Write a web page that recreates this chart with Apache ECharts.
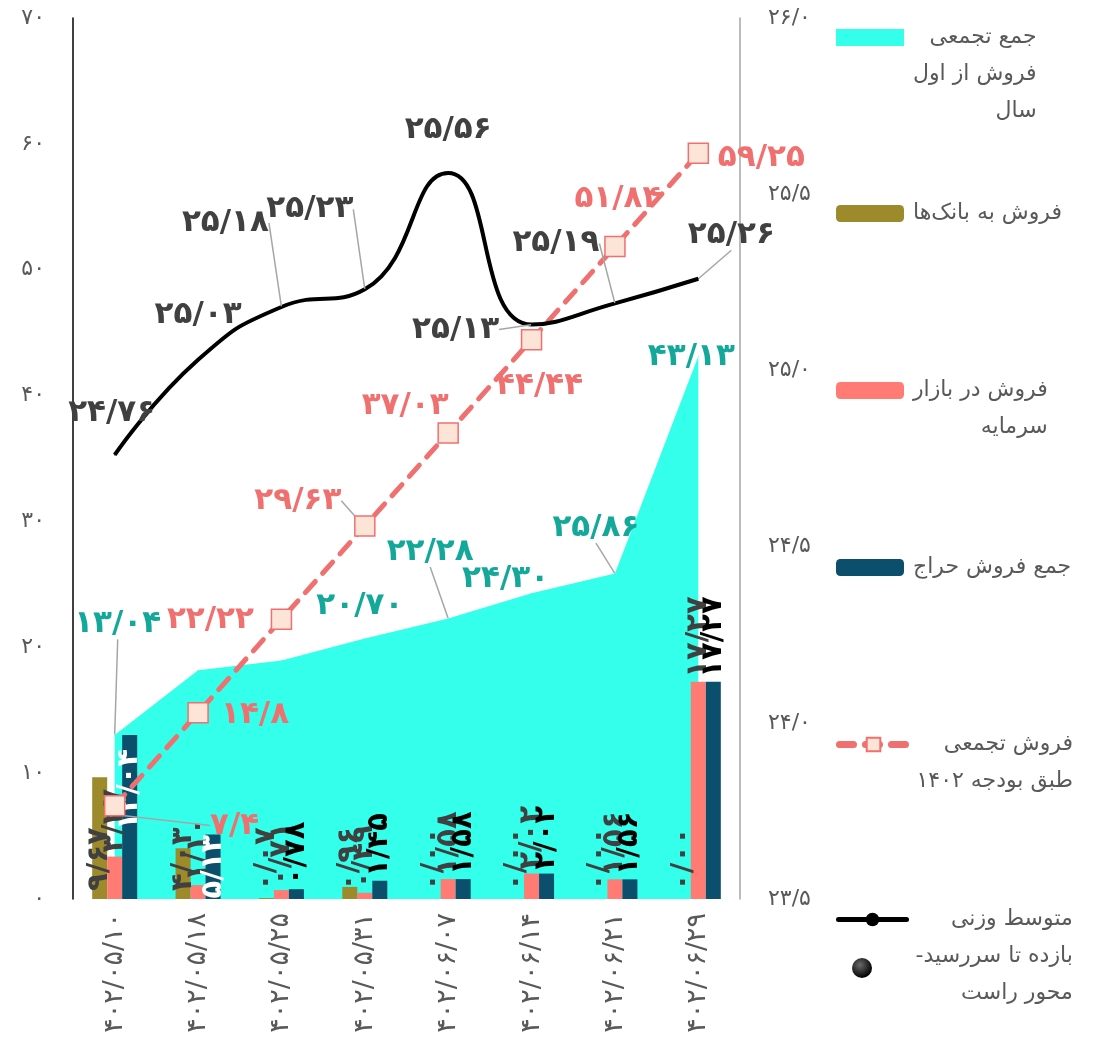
<!DOCTYPE html>
<html>
<head>
<meta charset="utf-8">
<script src="https://cdn.jsdelivr.net/npm/echarts@6/dist/echarts.min.js"></script>
<style>
  html, body { margin: 0; padding: 0; background: #fff; }
  #chart { width: 1099px; height: 1038px; }
</style>
</head>
<body>
<div id="chart" dir="rtl"></div>
<script>
// Weekly treasury-bond sales, 1402 (values in thousand billion rials, yield in percent)
const dates = ['۱۴۰۲/۰۵/۱۰', '۱۴۰۲/۰۵/۱۸', '۱۴۰۲/۰۵/۲۵', '۱۴۰۲/۰۵/۳۱', '۱۴۰۲/۰۶/۰۷', '۱۴۰۲/۰۶/۱۴', '۱۴۰۲/۰۶/۲۱', '۱۴۰۲/۰۶/۲۹'];
const cumulativeSales = [13.04, 18.17, 18.95, 20.70, 22.28, 24.30, 25.86, 43.13];
const bankSales = [9.67, 4.03, 0.07, 0.96, 0, 0, 0, 0];
const marketSales = [3.37, 1.10, 0.71, 0.49, 1.58, 2.02, 1.56, 17.27];
const auctionTotal = [13.04, 5.13, 0.78, 1.45, 1.58, 2.02, 1.56, 17.27];
const budgetCumulative = [7.4, 14.8, 22.22, 29.63, 37.03, 44.44, 51.84, 59.25];
const avgYield = [24.76, 25.03, 25.18, 25.23, 25.56, 25.13, 25.19, 25.26];

const names = {
  cumulative: 'جمع تجمعی فروش از اول سال',
  banks: 'فروش به بانک‌ها',
  market: 'فروش در بازار سرمایه',
  auction: 'جمع فروش حراج',
  budget: 'فروش تجمعی طبق بودجه ۱۴۰۲',
  yield: 'متوسط وزنی بازده تا سررسید- محور راست'
};

// Persian digits, with "/" as the decimal mark
const FA = '۰۱۲۳۴۵۶۷۸۹';
const fa = s => String(s).replace(/[0-9]/g, d => FA[d]).replace(/\./g, '/');

// label nudges (pixels) away from the default "top" spot; null hides the label
const cumulativeShift = [[3, -90], null, null, [-5, -12], [-18, -46], [-26, 7], [-19, -25], [-7, 22]];
const cumulativeLeaders = [0, 4, 6];
const budgetShift = [[120, 51], [57, 33], [-71, 32], [-67, 6], [-43, 4], [8, 78], [3, -16], [63, 36]];
const budgetLeaders = [0, 3];
const yieldShift = [[-3, -21], [0, -24], [-56, -63], [-55, -59], [0, -22], [-76, 26], [-59, -39], [33, -23]];
const yieldLeaders = [2, 3, 5, 6, 7];

const FONT = 'DejaVu Sans';
const leaderStyle = { lineStyle: { color: '#A6A6A6', width: 1.5 } };
const bigLabel = { fontSize: 31, fontWeight: 'bold', fontFamily: FONT };

function lineData(values, shift, leaders) {
  return values.map((v, i) => ({
    value: v,
    label: { show: shift[i] !== null },
    labelLine: { show: leaders.indexOf(i) >= 0 }
  }));
}
function shiftLayout(shift) {
  return p => {
    const s = shift[p.dataIndex];
    return s ? { dx: s[0], dy: s[1] } : {};
  };
}

const barLabelBase = {
  show: true, rotate: 90, align: 'left', verticalAlign: 'middle',
  fontSize: 29, fontWeight: 'bold', fontFamily: FONT,
  formatter: p => fa(p.value.toFixed(2))
};

// white labels inside the two tall auction bars
const auctionLabelOverride = {
  0: { position: 'insideTop', align: 'right', distance: 14, color: '#fff' },
  1: { position: 'inside', align: 'center', color: '#fff' }
};

// legend: one block per series, first text line level with the key
const LINE_H = 37;
const KEY_H = 17;
function legendBlock(name, lines, centerY, extra) {
  return Object.assign({
    data: [name],
    left: 836,
    top: centerY - KEY_H / 2,
    orient: 'vertical',
    padding: 0,
    itemWidth: 68,
    itemHeight: KEY_H,
    selectedMode: false,
    formatter: () => lines.map(l => '{r|' + l + '}').join('\n'),
    textStyle: {
      padding: [(lines.length - 1) * LINE_H, 0, 0, 4],
      rich: { r: { align: 'right', fontSize: 22, lineHeight: LINE_H, color: '#595959', fontFamily: FONT } }
    }
  }, extra || {});
}

const axisFont = { color: '#595959', fontSize: 22, fontFamily: FONT };

const option = {
  animation: false,
  backgroundColor: '#fff',
  textStyle: { fontFamily: FONT },
  grid: { left: 73, right: 359, top: 18, bottom: 139, containLabel: false, outerBoundsMode: 'none' },
  legend: [
    legendBlock(names.cumulative, ['جمع تجمعی', 'فروش از اول', 'سال'], 35, { data: [{ name: names.cumulative, icon: 'rect' }] }),
    legendBlock(names.banks, ['فروش به بانک‌ها'], 211),
    legendBlock(names.market, ['فروش در بازار', 'سرمایه'], 388),
    legendBlock(names.auction, ['جمع فروش حراج'], 565),
    legendBlock(names.budget, ['فروش تجمعی', 'طبق بودجه ۱۴۰۲'], 742,
      { lineStyle: { width: 7, type: [14, 12], cap: 'round' } }),
    legendBlock(names.yield, ['متوسط وزنی', 'بازده تا سررسید-', 'محور راست'], 917,
      { lineStyle: { width: 5, cap: 'round' } }),
    {
      data: [{
        name: names.yield, icon: 'circle',
        itemStyle: { color: { type: 'radial', x: 0.4, y: 0.35, r: 0.65, colorStops: [{ offset: 0, color: '#6a6a6a' }, { offset: 1, color: '#000' }] } }
      }],
      left: 852, top: 958, padding: 0, itemWidth: 20, itemHeight: 20,
      selectedMode: false, formatter: () => ''
    }
  ],
  xAxis: {
    type: 'category',
    data: dates,
    axisLine: { show: false },
    axisTick: { show: false },
    axisLabel: Object.assign({ rotate: 90, margin: 14 }, axisFont, { fontSize: 27 })
  },
  yAxis: [
    {
      type: 'value', min: 0, max: 70, interval: 10,
      axisLine: { show: true, lineStyle: { color: '#000', width: 1.5 } },
      axisTick: { show: false },
      splitLine: { show: false },
      axisLabel: Object.assign({ margin: 28, formatter: v => fa(v) }, axisFont)
    },
    {
      type: 'value', position: 'right', min: 23.5, max: 26, interval: 0.5,
      axisLine: { show: true, lineStyle: { color: '#A6A6A6', width: 1.5 } },
      axisTick: { show: false },
      splitLine: { show: false },
      axisLabel: Object.assign({ margin: 28, formatter: v => fa(v.toFixed(1)) }, axisFont)
    }
  ],
  series: [
    {
      name: names.cumulative,
      type: 'line',
      z: 1,
      data: lineData(cumulativeSales, cumulativeShift, cumulativeLeaders),
      symbol: 'circle', symbolSize: 1,
      itemStyle: { color: '#33FFEB' },
      lineStyle: { width: 0, opacity: 0 },
      areaStyle: { color: '#33FFEB', opacity: 1 },
      label: Object.assign({ show: true, position: 'top', color: '#14A89A', formatter: p => fa(p.value.toFixed(2)) }, bigLabel),
      labelLine: leaderStyle,
      labelLayout: shiftLayout(cumulativeShift)
    },
    {
      name: names.banks,
      type: 'bar',
      z: 2,
      barWidth: 15, barGap: '0%',
      data: bankSales,
      itemStyle: { color: '#9C8A2B' },
      label: Object.assign({}, barLabelBase, { position: 'insideBottom', distance: 8, color: '#404040' })
    },
    {
      name: names.market,
      type: 'bar',
      z: 2,
      barWidth: 15, barGap: '0%',
      data: marketSales,
      itemStyle: { color: '#FF7B74' },
      label: Object.assign({}, barLabelBase, { position: 'top', distance: 4, color: '#404040' })
    },
    {
      name: names.auction,
      type: 'bar',
      z: 2,
      barWidth: 15, barGap: '0%',
      data: auctionTotal.map((v, i) => auctionLabelOverride[i] ? { value: v, label: auctionLabelOverride[i] } : v),
      itemStyle: { color: '#0B4F6C' },
      label: Object.assign({}, barLabelBase, { position: 'top', distance: 4, color: '#000' })
    },
    {
      name: names.budget,
      type: 'line',
      z: 3,
      data: lineData(budgetCumulative, budgetShift, budgetLeaders),
      symbol: 'rect', symbolSize: 20,
      itemStyle: { color: '#FCE4D6', borderColor: '#F07070', borderWidth: 1.5 },
      lineStyle: { color: '#F07070', width: 5, type: [15, 11], cap: 'round' },
      label: Object.assign({ show: true, position: 'top', color: '#F07070', formatter: p => fa(String(p.value)) }, bigLabel),
      labelLine: leaderStyle,
      labelLayout: shiftLayout(budgetShift)
    },
    {
      name: names.yield,
      type: 'line',
      yAxisIndex: 1,
      z: 4,
      smooth: 0.5,
      data: lineData(avgYield, yieldShift, yieldLeaders),
      symbol: 'circle', symbolSize: 1,
      itemStyle: { color: '#000' },
      lineStyle: { color: '#000', width: 4 },
      label: Object.assign({ show: true, position: 'top', color: '#404040', formatter: p => fa(p.value.toFixed(2)) }, bigLabel),
      labelLine: leaderStyle,
      labelLayout: shiftLayout(yieldShift)
    }
  ]
};

const chart = echarts.init(document.getElementById('chart'), null, { renderer: 'canvas' });
chart.setOption(option);
</script>
</body>
</html>
